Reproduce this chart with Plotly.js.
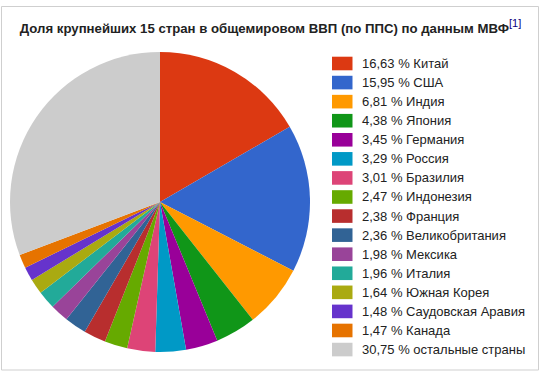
<!DOCTYPE html>
<html>
<head>
<meta charset="utf-8">
<script src="https://cdn.plot.ly/plotly-3.0.1.min.js"></script>
<style>html,body{margin:0;padding:0;background:#fff;}#chart{width:541px;height:371px;}</style>
</head>
<body>
<div id="chart"></div>
<script>
var countries = ["Китай","США","Индия","Япония","Германия","Россия","Бразилия","Индонезия","Франция","Великобритания","Мексика","Италия","Южная Корея","Саудовская Аравия","Канада","остальные страны"];
var shares = [16.63,15.95,6.81,4.38,3.45,3.29,3.01,2.47,2.38,2.36,1.98,1.96,1.64,1.48,1.47,30.75];
var colors = ["#dc3912","#3366cc","#ff9900","#109618","#990099","#0099c6","#dd4477","#66aa00","#b82e2e","#316395","#994499","#22aa99","#aaaa11","#6633cc","#e67300","#cccccc"];
var titleText = "Доля крупнейших 15 стран в общемировом ВВП (по ППС) по данным МВФ";

var W = 541, H = 371;
function px(x){return x/W;}
function py(y){return 1 - y/H;}

var legendLabels = shares.map(function(v,i){return v.toFixed(2).replace('.',',') + ' % ' + countries[i];});

var trace = {
  type: 'pie',
  labels: countries,
  values: shares,
  sort: false,
  direction: 'clockwise',
  rotation: 0,
  textinfo: 'none',
  hoverinfo: 'label+percent',
  marker: {colors: colors, line: {width: 0}},
  domain: {x: [px(10), px(310)], y: [py(352), py(52)]},
  showlegend: false
};

var shapes = [{
  type: 'rect', xref: 'paper', yref: 'paper',
  x0: px(1.5), x1: px(538.5), y0: py(370), y1: py(6.5),
  line: {color: '#cfcfcf', width: 1}, fillcolor: 'rgba(0,0,0,0)'
}];
var annotations = [];
var rowStart = 63.5, rowStep = 19.07;
for (var i = 0; i < countries.length; i++) {
  var cy = rowStart + i*rowStep;
  shapes.push({
    type: 'rect', xref: 'paper', yref: 'paper',
    x0: px(332), x1: px(352.5), y0: py(cy+6.8), y1: py(cy-6.8),
    fillcolor: colors[i], line: {width: 0}
  });
  annotations.push({
    xref: 'paper', yref: 'paper', x: px(360), y: py(cy),
    xanchor: 'left', yanchor: 'middle', showarrow: false,
    text: legendLabels[i],
    font: {family: 'Liberation Sans, Arial, sans-serif', size: 13, color: '#222222'}
  });
}

var layout = {
  width: W, height: H,
  margin: {l: 0, r: 0, t: 0, b: 0},
  paper_bgcolor: '#ffffff',
  title: {
    text: '<b>' + titleText + '</b><sup><span style="font-size:11px;color:#0b0080">[1]</span></sup>',
    x: px(270.5), xanchor: 'center', xref: 'paper',
    y: py(28), yanchor: 'middle', yref: 'container',
    font: {family: 'Liberation Sans, Arial, sans-serif', size: 13.2, color: '#222222'}
  },
  shapes: shapes,
  annotations: annotations,
  showlegend: false
};

Plotly.newPlot('chart', [trace], layout, {displayModeBar: false, staticPlot: true});
</script>
</body>
</html>
